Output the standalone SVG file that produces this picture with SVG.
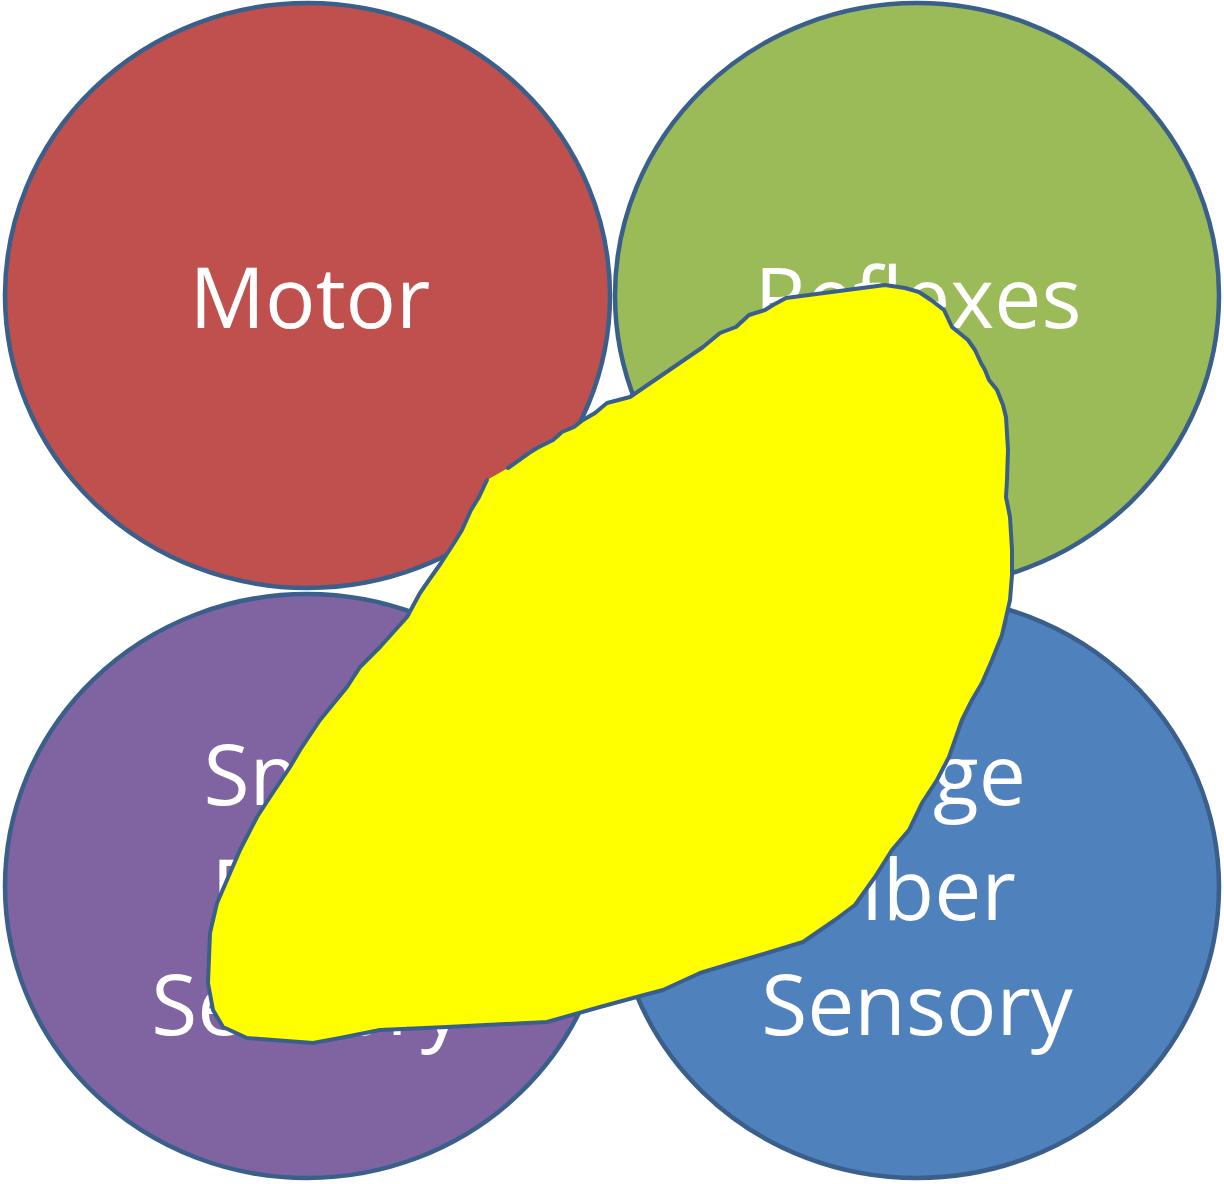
<svg xmlns="http://www.w3.org/2000/svg" width="1224" height="1184" viewBox="0 0 1224 1184">
<style>
.c{stroke:#3A5F8B;stroke-width:4.5}
.t{fill:#FFFFFF;font-family:"Open Sans","Noto Sans",sans-serif;font-size:84px;text-anchor:middle}
.blob{fill:#FFFF00}
.blobline{fill:none;stroke:#3A5F8B;stroke-width:4;stroke-linejoin:round;stroke-linecap:round}
</style>
<rect width="1224" height="1184" fill="#FFFFFF"/>
<g id="motor">
<ellipse class="c" cx="307.5" cy="295.5" rx="302.5" ry="292.5" fill="#C0504D"/>
<text class="t" x="310" y="328">Motor</text>
</g>
<g id="reflexes">
<ellipse class="c" cx="917" cy="295.5" rx="302" ry="292.5" fill="#9BBB59"/>
<text class="t" x="918" y="328">Reflexes</text>
</g>
<g id="small-fiber-sensory">
<ellipse class="c" cx="307" cy="886" rx="302" ry="292" fill="#8064A2"/>
<text class="t" x="310" y="805">Small</text>
<text class="t" x="310" y="920">Fiber</text>
<text class="t" x="307" y="1035">Sensory</text>
</g>
<g id="large-fiber-sensory">
<ellipse class="c" cx="917" cy="887" rx="302" ry="291" fill="#4F81BD"/>
<text class="t" x="917" y="805">Large</text>
<text class="t" x="917" y="920">Fiber</text>
<text class="t" x="917" y="1035">Sensory</text>
</g>
<g id="yellow-highlight">
<path class="blob" d="M508,468 L529,453 537,448 553,440 562,432 574,427 583,420 595,413 607,403 630,397 703,347 720,333 736,327 749,315 765,310 773,305 786,298 885,285 905,288 919,292 931,300 944,310 952,327 968,340 975,350 981,363 985,370 989,380 997,390 1003,405 1006,417 1008,450 1007,480 1006,497 1010,517 1012,550 1012,575 1010,600 1002,635 992,660 982,683 972,700 962,720 949,757 937,780 922,803 909,830 892,850 875,877 855,905 835,920 803,942 767,953 733,963 700,973 663,990 633,998 600,1007 547,1022 447,1027 380,1030 340,1038 313,1043 247,1038 223,1027 213,1010 208,983 210,933 217,903 230,873 240,850 257,817 270,797 290,767 300,750 320,720 347,687 360,667 380,647 407,617 420,593 429,580 441,563 454,543 462,530 471,510 479,497 487,480 Z"/>
<path class="blobline" d="M508,468 L529,453 537,448 553,440 562,432 574,427 583,420 595,413 607,403 630,397 703,347 720,333 736,327 749,315 765,310 773,305 786,298 885,285 905,288 919,292 931,300 944,310 952,327 968,340 975,350 981,363 985,370 989,380 997,390 1003,405 1006,417 1008,450 1007,480 1006,497 1010,517 1012,550 1012,575 1010,600 1002,635 992,660 982,683 972,700 962,720 949,757 937,780 922,803 909,830 892,850 875,877 855,905 835,920 803,942 767,953 733,963 700,973 663,990 633,998 600,1007 547,1022 447,1027 380,1030 340,1038 313,1043 247,1038 223,1027 213,1010 208,983 210,933 217,903 230,873 240,850 257,817 270,797 290,767 300,750 320,720 347,687 360,667 380,647 407,617 420,593 429,580 441,563 454,543 462,530 471,510 479,497 487,480"/>
</g>
</svg>
